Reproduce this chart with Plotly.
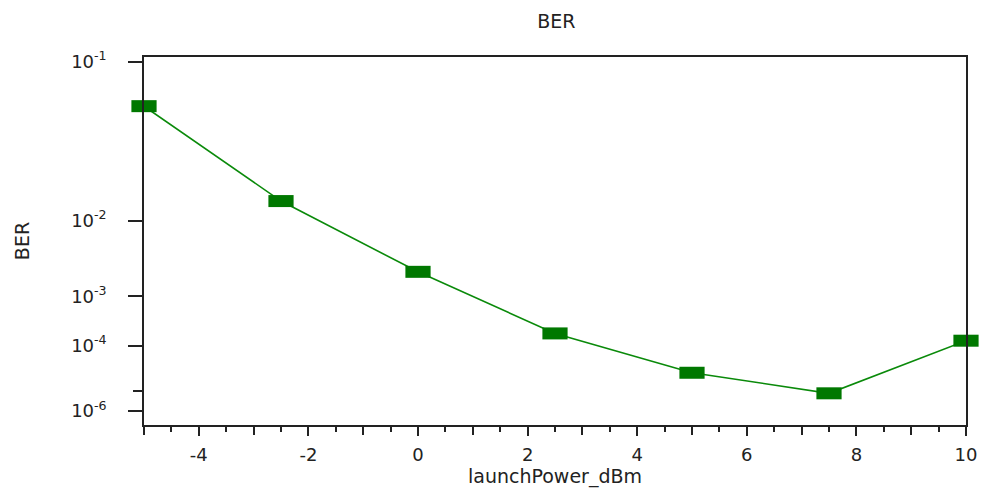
import math
import plotly.graph_objects as go

# Data
launch_power_dbm = [-5, -2.5, 0, 2.5, 5, 7.5, 10]
ber_values = [0.065, 0.0153, 0.0024, 1.9e-4, 1.9e-5, 4.3e-6, 1.3e-4]
ber_major_ticks = [1e-1, 1e-2, 1e-3, 1e-4, 1e-6]
ber_major_labels = ["10<sup>-1</sup>", "10<sup>-2</sup>", "10<sup>-3</sup>", "10<sup>-4</sup>", "10<sup>-6</sup>"]
ber_minor_ticks = [5e-6]
x_label_ticks = [-4, -2, 0, 2, 4, 6, 8, 10]
x_label_text = ["-4", "-2", "0", "2", "4", "6", "8", "10"]
x_unlabeled_ticks = [-5, -3, -1, 1, 3, 5, 7, 9]


def q_from_ber(ber):
    # invert BER = 0.5*erfc(Q/sqrt(2)) by bisection
    lo, hi = 0.0, 40.0
    for _ in range(200):
        mid = 0.5 * (lo + hi)
        if 0.5 * math.erfc(mid / math.sqrt(2)) > ber:
            lo = mid
        else:
            hi = mid
    return 0.5 * (lo + hi)


def ber_scale(ber):
    # Q-factor in dB scale used by the BER axis
    return 20 * math.log10(q_from_ber(ber))


y_plot = [ber_scale(b) for b in ber_values]

fig = go.Figure()
fig.add_trace(go.Scatter(
    x=launch_power_dbm, y=y_plot, mode="lines",
    line=dict(color="#0a8a0a", width=1.6),
    hoverinfo="skip", showlegend=False,
))
fig.add_trace(go.Scatter(
    x=launch_power_dbm, y=y_plot, mode="markers",
    marker=dict(symbol="line-ew", size=18, color="#007800",
                line=dict(color="#007800", width=12)),
    customdata=ber_values,
    hovertemplate="%{x}: %{customdata:.2e}<extra></extra>",
    showlegend=False, cliponaxis=False,
))
# invisible helper trace so the odd-integer tick axis is drawn
fig.add_trace(go.Scatter(
    x=launch_power_dbm, y=y_plot, xaxis="x2", mode="lines",
    line=dict(width=0), opacity=0, hoverinfo="skip", showlegend=False,
))

font_family = "DejaVu Sans"
tick_color = "#222"
fig.update_layout(
    width=989, height=495,
    margin=dict(l=144, r=21, t=57, b=70),
    paper_bgcolor="white", plot_bgcolor="white",
    font=dict(family=font_family, size=18, color=tick_color),
    title=dict(text="BER", x=0.5625, xanchor="center", y=1 - 21.5 / 495, yanchor="middle",
               font=dict(family=font_family, size=19, color=tick_color)),
    xaxis=dict(
        range=[-5, 10], tickvals=x_label_ticks, ticktext=x_label_text,
        ticks="outside", ticklen=9, tickwidth=1.5, tickcolor=tick_color,
        minor=dict(dtick=0.5, tick0=0, ticks="outside", ticklen=5, tickwidth=1.5, tickcolor=tick_color),
        showgrid=False, zeroline=False,
        showline=True, linecolor=tick_color, linewidth=1.5, mirror=True,
        tickfont=dict(family=font_family, size=18, color=tick_color),
        title=dict(text="launchPower_dBm", font=dict(family=font_family, size=19, color=tick_color), standoff=4),
        ticklabelstandoff=4,
    ),
    xaxis2=dict(
        range=[-5, 10], overlaying="x", side="bottom", anchor="y",
        tickvals=x_unlabeled_ticks, showticklabels=False,
        ticks="outside", ticklen=9, tickwidth=1.5, tickcolor=tick_color,
        showgrid=False, zeroline=False, showline=False,
    ),
    yaxis=dict(
        range=[14, 2],
        tickvals=[ber_scale(b) for b in ber_major_ticks], ticktext=ber_major_labels,
        ticks="outside", ticklen=14, tickwidth=1.5, tickcolor=tick_color,
        minor=dict(tickvals=[ber_scale(b) for b in ber_minor_ticks], ticks="outside",
                   ticklen=9, tickwidth=1.5, tickcolor=tick_color),
        showgrid=False, zeroline=False,
        showline=True, linecolor=tick_color, linewidth=1.5, mirror=True,
        tickfont=dict(family=font_family, size=18, color=tick_color),
        title=dict(text="BER", font=dict(family=font_family, size=19, color=tick_color), standoff=37),
        ticklabelstandoff=18,
    ),
)

fig.write_html("out.html", config={"displayModeBar": False},
               post_script="document.body.style.margin='0';")
